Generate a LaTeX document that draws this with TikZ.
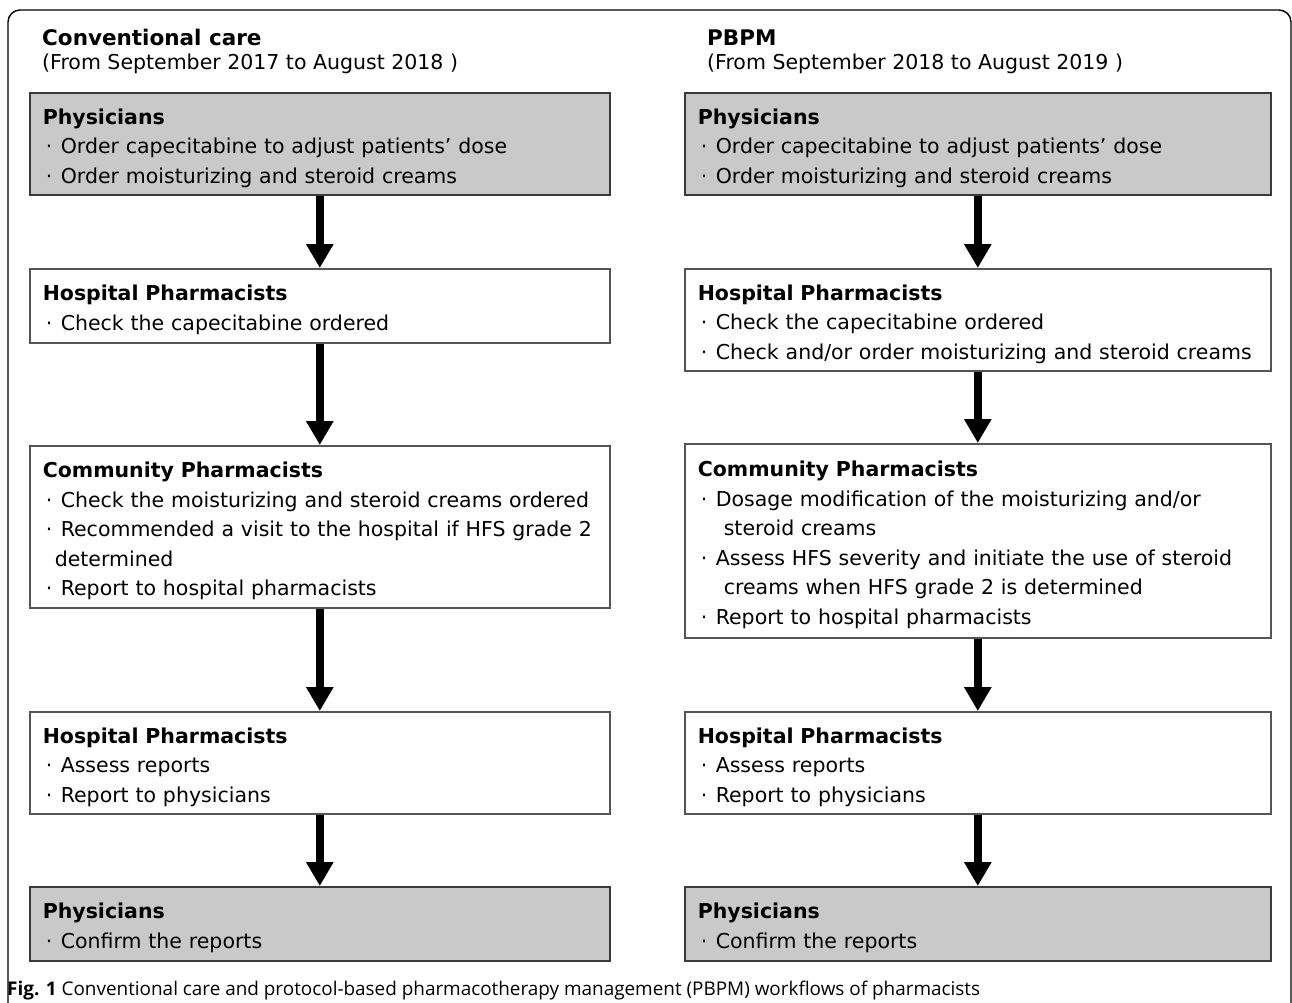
\documentclass[tikz,border=0pt]{standalone}
\usepackage{fontspec}
\setmainfont{DejaVu Sans}
\newfontfamily\capfont{Open Sans}
\usetikzlibrary{arrows.meta}
\definecolor{boxgray}{HTML}{C9C9C9}
\definecolor{boxdark}{HTML}{3A3A3A}
\definecolor{boxline}{HTML}{555555}
\newcommand{\bdot}{\makebox[18pt][l]{\hspace{3pt}·}}
\newcommand{\hd}[1]{\rule{0pt}{24pt}\textbf{#1}}
\begin{document}
\begin{tikzpicture}[x=1pt,y=-1pt,
  base/.style={anchor=north west, inner xsep=13pt, inner ysep=0pt, align=left,
    line width=1.6pt, font=\fontsize{20.5}{29.5}\selectfont},
  graybox/.style={base, draw=boxdark, fill=boxgray},
  whitebox/.style={base, draw=boxline, fill=white},
  lcol/.style={text width=554pt},
  rcol/.style={text width=560pt},
  flow/.style={line width=8pt, -{Triangle[width=26pt,length=24pt]}},
  title/.style={anchor=base west, inner sep=0pt, font=\bfseries\fontsize{21.5}{26}\selectfont},
  subtitle/.style={anchor=base west, inner sep=0pt, font=\fontsize{20.5}{26}\selectfont}
]
\useasboundingbox (0,0) rectangle (1292,1003);
\begin{scope}
\clip (0,0) rectangle (1292,1003);
\draw[line width=1.4pt, rounded corners=12pt] (8,1030) -- (8,10) -- (1291,10) -- (1291,1030);
\end{scope}

% titles
\node[title] (tl) at (42,46) {Conventional care};
\node[subtitle] (sl) at (42,70) {(From September 2017 to August 2018 )};
\node[title] (tr) at (707,46) {PBPM};
\node[subtitle] (sr) at (707,70) {(From September 2018 to August 2019 )};

% left column
\node[graybox, lcol, minimum height=102pt] (L1) at (29,92) {\hd{Physicians}\\
\bdot Order capecitabine to adjust patients’ dose\\
\bdot Order moisturizing and steroid creams};
\node[whitebox, lcol, minimum height=74pt] (L2) at (29,268) {\hd{Hospital Pharmacists}\\
\bdot Check the capecitabine ordered};
\node[whitebox, lcol, minimum height=162pt] (L3) at (29,445) {\hd{Community Pharmacists}\\
\bdot Check the moisturizing and steroid creams ordered\\
\bdot Recommended a visit to the hospital if HFS grade 2\\
\hspace*{12pt}determined\\
\bdot Report to hospital pharmacists};
\node[whitebox, lcol, minimum height=102pt] (L4) at (29,711) {\hd{Hospital Pharmacists}\\
\bdot Assess reports\\
\bdot Report to physicians};
\node[graybox, lcol, minimum height=74pt] (L5) at (29,886) {\hd{Physicians}\\
\bdot Confirm the reports};

% right column
\node[graybox, rcol, minimum height=102pt] (R1) at (684,92) {\hd{Physicians}\\
\bdot Order capecitabine to adjust patients’ dose\\
\bdot Order moisturizing and steroid creams};
\node[whitebox, rcol, minimum height=102pt] (R2) at (684,268) {\hd{Hospital Pharmacists}\\
\bdot Check the capecitabine ordered\\
\bdot Check and/or order moisturizing and steroid creams};
\node[whitebox, rcol, minimum height=194pt] (R3) at (684,443) {\hd{Community Pharmacists}\\
\bdot Dosage modification of the moisturizing and/or\\
\hspace*{26pt}steroid creams\\
\bdot Assess HFS severity and initiate the use of steroid\\
\hspace*{26pt}creams when HFS grade 2 is determined\\
\bdot Report to hospital pharmacists};
\node[whitebox, rcol, minimum height=102pt] (R4) at (684,711) {\hd{Hospital Pharmacists}\\
\bdot Assess reports\\
\bdot Report to physicians};
\node[graybox, rcol, minimum height=74pt] (R5) at (684,886) {\hd{Physicians}\\
\bdot Confirm the reports};

% arrows
\foreach \a/\b in {L1/L2,L2/L3,L3/L4,L4/L5,R1/R2,R2/R3,R3/R4,R4/R5}
  \draw[flow] (\a.south) -- (\b.north);

% caption
\node[anchor=base west, inner sep=0pt, font=\capfont\fontsize{18.9}{22}\selectfont] (cap) at (7,995)
  {\textbf{Fig. 1} Conventional care and protocol-based pharmacotherapy management (PBPM) workflows of pharmacists};
\end{tikzpicture}
\end{document}
